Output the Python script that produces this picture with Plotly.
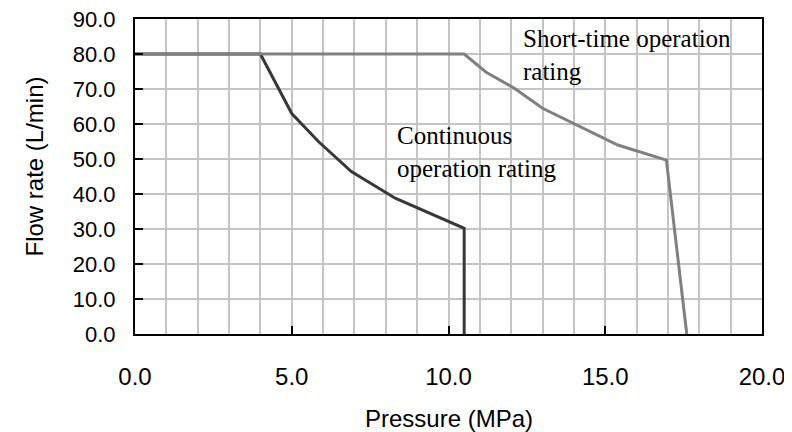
import plotly.graph_objects as go

# Continuous operation rating
cont_pressure = [0.0, 4.0, 5.0, 5.85, 6.9, 8.3, 10.5, 10.5]
cont_flow = [80.0, 80.0, 63.0, 55.0, 46.4, 38.8, 30.2, 0.0]

# Short-time operation rating
short_pressure = [0.0, 10.5, 11.2, 12.1, 13.0, 14.0, 15.4, 16.95, 17.6]
short_flow = [80.0, 80.0, 74.8, 70.2, 64.5, 60.2, 54.0, 49.7, 0.0]

x_ticks = [0, 5, 10, 15, 20]
x_tick_labels = ["0.0", "5.0", "10.0", "15.0", "20.0"]
y_ticks = [0, 10, 20, 30, 40, 50, 60, 70, 80, 90]
y_tick_labels = ["0.0", "10.0", "20.0", "30.0", "40.0", "50.0", "60.0", "70.0", "80.0", "90.0"]

label_cont = "Continuous<br>operation rating"
label_short = "Short-time operation<br>rating"
x_title = "Pressure (MPa)"
y_title = "Flow rate (L/min)"

fig = go.Figure()
fig.add_trace(go.Scatter(x=cont_pressure, y=cont_flow, mode="lines",
                         line=dict(color="#383838", width=3), showlegend=False))
fig.add_trace(go.Scatter(x=short_pressure, y=short_flow, mode="lines",
                         line=dict(color="#808080", width=3), showlegend=False))

axis_font = dict(family="Liberation Sans, Arial, sans-serif", size=24, color="black")
ytick_font = dict(family="Liberation Sans, Arial, sans-serif", size=22, color="black")
serif_font = dict(family="Liberation Serif, Times New Roman, serif", size=25, color="black")

# page body has an 8px margin, so the figure is 8px smaller and shifted
fig.update_layout(
    width=784, height=424,
    margin=dict(l=127, r=30, t=11, b=98, autoexpand=False),
    paper_bgcolor="white", plot_bgcolor="white",
    showlegend=False,
    xaxis=dict(range=[0, 20], tickvals=x_ticks, ticktext=x_tick_labels,
               ticks="inside", ticklen=8, tickwidth=2, tickcolor="black",
               showline=True, linecolor="black", linewidth=2, mirror=True,
               showgrid=True, gridcolor="#c4c4c4", gridwidth=1.5,
               minor=dict(dtick=1, showgrid=True, gridcolor="#c4c4c4", gridwidth=1.5, ticks=""),
               tickfont=axis_font, ticklabelstandoff=20, zeroline=False, automargin=False,
               ticklabeloverflow="allow"),
    yaxis=dict(range=[0, 90], tickvals=y_ticks, ticktext=y_tick_labels,
               ticks="inside", ticklen=8, tickwidth=2, tickcolor="black",
               showline=True, linecolor="black", linewidth=2, mirror=True,
               showgrid=True, gridcolor="#c4c4c4", gridwidth=1.5,
               tickfont=ytick_font, ticklabelstandoff=13, zeroline=False, automargin=False,
               ticklabeloverflow="allow"),
    annotations=[
        dict(x=8.29, y=51.9, xref="x", yref="y", text=label_cont, showarrow=False,
             xanchor="left", yanchor="middle", align="left", font=serif_font),
        dict(x=12.3, y=79.7, xref="x", yref="y", text=label_short, showarrow=False,
             xanchor="left", yanchor="middle", align="left", font=serif_font),
        dict(x=0.5, y=0.0, xref="paper", yref="paper", yshift=-84, text=x_title,
             showarrow=False, xanchor="center", yanchor="middle", font=axis_font),
        dict(x=0, y=0.5, xref="paper", yref="paper", xshift=-101, yshift=10, text=y_title,
             showarrow=False, xanchor="center", yanchor="middle", textangle=-90, font=axis_font),
    ],
)

fig.write_html("out.html")
